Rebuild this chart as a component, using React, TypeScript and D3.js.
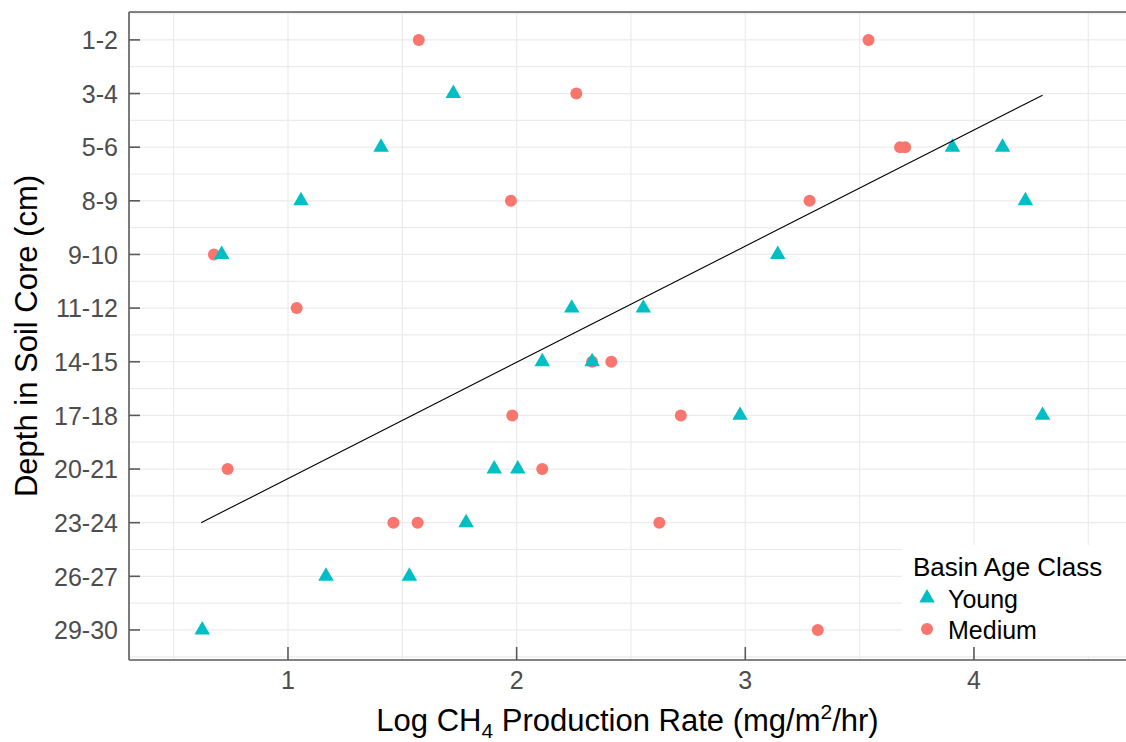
import { scaleLinear, symbol, symbolTriangle, line, range } from "d3";

// depth classes, top to bottom
const depthLabels = ["1-2", "3-4", "5-6", "8-9", "9-10", "11-12", "14-15", "17-18", "20-21", "23-24", "26-27", "29-30"];

const youngDepth = ["29-30", "26-27", "26-27", "23-24", "20-21", "20-21", "17-18", "17-18", "14-15", "14-15", "11-12", "11-12", "9-10", "9-10", "8-9", "8-9", "5-6", "5-6", "5-6", "3-4"];
const youngRate = [0.625, 1.166, 1.531, 1.779, 1.902, 2.005, 2.977, 4.3, 2.112, 2.33, 2.241, 2.554, 0.71, 3.142, 1.057, 4.225, 1.407, 3.906, 4.125, 1.723];

const mediumDepth = ["1-2", "1-2", "3-4", "5-6", "5-6", "8-9", "8-9", "9-10", "11-12", "14-15", "14-15", "17-18", "17-18", "20-21", "20-21", "23-24", "23-24", "23-24", "29-30"];
const mediumRate = [1.572, 3.539, 2.261, 3.677, 3.699, 1.975, 3.281, 0.676, 1.038, 2.33, 2.414, 1.981, 2.718, 0.736, 2.112, 1.461, 1.567, 2.624, 3.317];

// fitted line end points (rate, depth position 1..12)
const trendRate = [0.62, 4.3];
const trendDepthPos = [10.0, 2.03];

const xTicks = [1, 2, 3, 4];
const xMinor = [0.5, 1.5, 2.5, 3.5, 4.5];

const W = 1126;
const H = 742;
const left = 129;
const right = 1126;
const top = 12;
const bottom = 660;

const YOUNG = "#00BFC4";
const MEDIUM = "#F8766D";
const FONT = "'Liberation Sans', Arial, sans-serif";

export default function App() {
  const x = scaleLinear().domain([0.3047, 4.665]).range([left, right]);
  const y = scaleLinear().domain([0.48, 12.56]).range([top, bottom]);
  const pos = (d: string) => depthLabels.indexOf(d) + 1;

  const tri = symbol().type(symbolTriangle).size(104)()!;
  const trend = line<number>()
    .x((_, i) => x(trendRate[i]))
    .y((d) => y(d))(trendDepthPos)!;

  const majorY = range(1, depthLabels.length + 1);
  const minorY = range(0.5, depthLabels.length + 1, 1);

  return (
    <svg width={W} height={H} style={{ position: "absolute", left: 0, top: 0, background: "#fff" }} fontFamily={FONT}>
      {/* grid */}
      <g stroke="#ebebeb" strokeWidth={1.2}>
        {minorY.map((v) => (
          <line key={"my" + v} x1={left} x2={right} y1={y(v)} y2={y(v)} />
        ))}
        {majorY.map((v) => (
          <line key={"y" + v} x1={left} x2={right} y1={y(v)} y2={y(v)} />
        ))}
        {xMinor.map((v) => (
          <line key={"mx" + v} x1={x(v)} x2={x(v)} y1={top} y2={bottom} />
        ))}
        {xTicks.map((v) => (
          <line key={"x" + v} x1={x(v)} x2={x(v)} y1={top} y2={bottom} />
        ))}
      </g>

      {/* points */}
      {mediumRate.map((r, i) => (
        <circle key={"m" + i} cx={x(r)} cy={y(pos(mediumDepth[i]))} r={6} fill={MEDIUM} />
      ))}
      {youngRate.map((r, i) => (
        <path key={"yg" + i} d={tri} transform={`translate(${x(r)},${y(pos(youngDepth[i]))})`} fill={YOUNG} />
      ))}

      <path d={trend} fill="none" stroke="#000" strokeWidth={1.1} />

      {/* legend */}
      <rect x={902} y={545} width={W - 902} height={111} fill="#fff" />
      <text x={913} y={576} fontSize={26} fill="#000">Basin Age Class</text>
      <path d={tri} transform="translate(927,598)" fill={YOUNG} />
      <text x={948} y={608} fontSize={25} fill="#000">Young</text>
      <circle cx={927} cy={629} r={6} fill={MEDIUM} />
      <text x={948} y={639} fontSize={25} fill="#000">Medium</text>

      {/* axes */}
      <g stroke="#5a5a5a" strokeWidth={1.6}>
        <line x1={left} x2={right} y1={top} y2={top} />
        <line x1={left} x2={left} y1={top} y2={bottom} />
        <line x1={left} x2={right} y1={bottom} y2={bottom} />
        {majorY.map((v) => (
          <line key={"ty" + v} x1={left} x2={left + 11} y1={y(v)} y2={y(v)} />
        ))}
        {xTicks.map((v) => (
          <line key={"tx" + v} x1={x(v)} x2={x(v)} y1={bottom} y2={bottom - 13} />
        ))}
      </g>
      {depthLabels.map((d, i) => (
        <text key={d} x={118} y={y(i + 1)} dy="0.37em" textAnchor="end" fontSize={25} fill="#4d4d4d">
          {d}
        </text>
      ))}
      {xTicks.map((v) => (
        <text key={"xl" + v} x={x(v)} y={689} textAnchor="middle" fontSize={25} fill="#4d4d4d">
          {v}
        </text>
      ))}

      {/* titles */}
      <text x={(left + right) / 2} y={731} textAnchor="middle" fontSize={31} fill="#000">
        Log CH<tspan fontSize={21} dy={7}>4</tspan>
        <tspan dy={-7}> Production Rate (mg/m</tspan>
        <tspan fontSize={21} dy={-12}>2</tspan>
        <tspan dy={12}>/hr)</tspan>
      </text>
      <text transform={`translate(37,${(top + bottom) / 2}) rotate(-90)`} textAnchor="middle" fontSize={31} fill="#000">
        Depth in Soil Core (cm)
      </text>
    </svg>
  );
}
